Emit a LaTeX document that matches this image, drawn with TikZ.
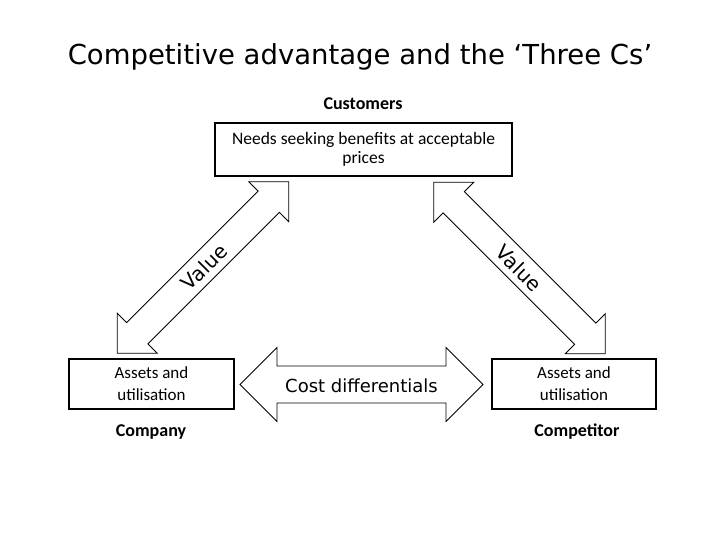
\documentclass[tikz,border=0pt]{standalone}
\usepackage{fontspec}
\setmainfont{Carlito}
\newfontfamily\dejavu{DejaVu Sans}
\newcommand\fatdoublearrow[4]{%
  \draw[fat] (-#1,0) -- (-#1+#2,-#3) -- (-#1+#2,-#4) -- (#1-#2,-#4) -- (#1-#2,-#3) -- (#1,0)
     -- (#1-#2,#3) -- (#1-#2,#4) -- (-#1+#2,#4) -- (-#1+#2,#3) -- cycle;}
\begin{document}
\begin{tikzpicture}[x=1pt,y=-1pt,
  box/.style={draw=black,line width=2pt,inner sep=0pt,align=center,font=\fontsize{17}{22}\selectfont},
  lbl/.style={font=\bfseries\fontsize{18}{22}\selectfont,inner sep=0pt},
  fat/.style={draw=black,line width=0.8pt,fill=white},
  arrowtext/.style={font=\dejavu\fontsize{18}{22}\selectfont,inner sep=0pt}]
\useasboundingbox[fill=white] (0,0) rectangle (720,540);

\node[font=\dejavu\fontsize{27.5}{32}\selectfont,inner sep=0pt] (title) at (360,57) {Competitive advantage and the ‘Three Cs’};

\node[lbl] (customers) at (363,104) {Customers};
\node[box,minimum width=297pt,minimum height=53pt,font=\fontsize{17.5}{19}\selectfont] (needs) at (363.5,149.5) {Needs seeking benefits at acceptable\\prices};

\node[box,minimum width=165pt,minimum height=50pt] (compbox) at (151.5,384) {Assets and\\utilisation};
\node[lbl] (company) at (151,432) {Company};

\node[box,minimum width=164pt,minimum height=50pt] (rivalbox) at (574,384) {Assets and\\utilisation};
\node[lbl] (competitor) at (577,432) {Competitor};

% left Value arrow
\begin{scope}[shift={(203,267.5)},rotate=45]
  \fatdoublearrow{121.25}{28.3}{28.3}{15}
\end{scope}
\node[arrowtext,font=\dejavu\fontsize{20}{24}\selectfont,rotate=45] (valueleft) at (204,267) {Value};

% right Value arrow
\begin{scope}[shift={(519.5,268)},rotate=-45]
  \fatdoublearrow{121.25}{28.3}{28.3}{15}
\end{scope}
\node[arrowtext,font=\dejavu\fontsize{20}{24}\selectfont,rotate=-45] (valueright) at (519,268) {Value};

% cost arrow
\begin{scope}[shift={(361.5,384.5)}]
  \fatdoublearrow{121.5}{37}{37}{18.5}
\end{scope}
\node[arrowtext] (cost) at (361.5,386) {Cost differentials};
\end{tikzpicture}
\end{document}
